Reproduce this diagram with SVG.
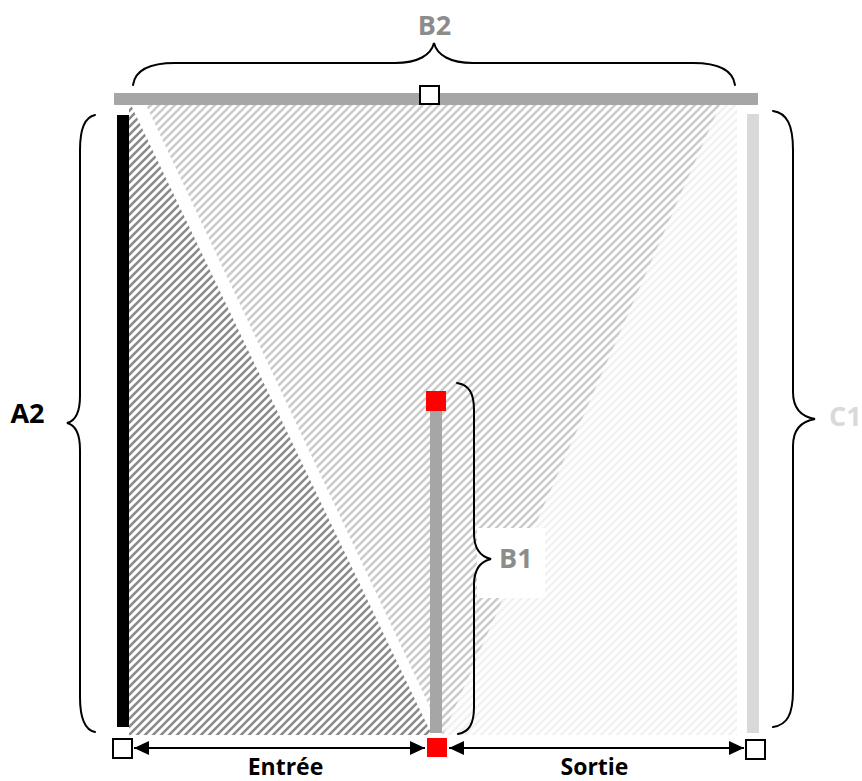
<svg xmlns="http://www.w3.org/2000/svg" width="862" height="781" viewBox="0 0 862 781">
<style>
.brace{fill:none;stroke:#000;stroke-width:2;stroke-linecap:round}
.lbl{font-family:"Open Sans","Liberation Sans",sans-serif;font-weight:bold}
.big{font-size:27px}
.small{font-size:23px}
.sq{fill:#fff;stroke:#000;stroke-width:2}
.red{fill:#ff0000}
.conn{stroke:#000;stroke-width:2;fill:none}
</style>
<defs>
<pattern id="hDark" patternUnits="userSpaceOnUse" width="8" height="8">
<path d="M-2,2 L2,-2 M0,8 L8,0 M6,10 L10,6" stroke="#8a8a8a" stroke-width="2.6"/>
</pattern>
<pattern id="hMid" patternUnits="userSpaceOnUse" width="8" height="8">
<path d="M-2,2 L2,-2 M0,8 L8,0 M6,10 L10,6" stroke="#cbcbcb" stroke-width="2.6"/>
</pattern>
<pattern id="hLight" patternUnits="userSpaceOnUse" width="8" height="8">
<path d="M-2,2 L2,-2 M0,8 L8,0 M6,10 L10,6" stroke="#f1f1f1" stroke-width="2.6"/>
</pattern>
<marker id="arr" markerUnits="userSpaceOnUse" markerWidth="16" markerHeight="14" refX="15" refY="7" orient="auto-start-reverse">
<path d="M0,0 L15,7 L0,14 Z" fill="#000"/>
</marker>
</defs>
<rect width="862" height="781" fill="#fff"/>

<g id="zones">
<polygon id="zone-light" points="720,105 737,105 737,735 443,735" fill="url(#hLight)"/>
<polygon id="zone-mid" points="146,105 720,105 443,735" fill="url(#hMid)"/>
<polygon id="zone-dark" points="129,105 131,105 432,735 129,735" fill="url(#hDark)"/>
<rect id="b1-box" x="477" y="528" width="68" height="70" fill="#fff"/>
</g>

<g id="B2-bar"><rect x="114" y="93" width="644" height="12" fill="#a6a6a6"/></g>
<g id="A2-bar"><rect x="117" y="115" width="12" height="612" fill="#000"/></g>
<g id="C1-bar"><rect x="747" y="114" width="12" height="619" fill="#d9d9d9"/></g>
<g id="B1-bar"><rect x="430" y="405" width="12" height="328" fill="#a6a6a6"/></g>

<g id="node-top"><rect class="sq" x="420" y="86" width="19" height="18"/></g>
<g id="node-b1-top"><rect class="red" x="426" y="391" width="20" height="20"/></g>
<g id="node-bottom-left"><rect class="sq" x="113" y="739" width="19" height="19"/></g>
<g id="node-bottom-mid"><rect class="red" x="427" y="738" width="20" height="19"/></g>
<g id="node-bottom-right"><rect class="sq" x="746" y="740" width="19" height="19"/></g>

<g id="braces">
<path class="brace" d="M133,85 C135,71 148,63 175,63 L395,63 C418,63 431,55 434,43 C437,55 450,63 473,63 L693,63 C720,63 733,71 735,85"/>
<path class="brace" d="M95,115 C85,117 80,128 80,150 L80,396 C80,412 75,421 67,423 C75,425 80,434 80,450 L80,697 C80,719 85,730 95,732"/>
<path class="brace" d="M773,111 C787,113 793,125 793,150 L793,392 C793,410 803,417 815,419 C803,421 793,428 793,446 L793,690 C793,715 787,725 773,727"/>
<path class="brace" d="M457,383 C469,385 474,393 474,410 L474,533 C474,550 482,557 491,559 C482,561 474,568 474,585 L474,707 C474,724 469,732 458,734"/>
</g>

<g id="connectors">
<line class="conn" x1="134" y1="748" x2="425" y2="748" marker-start="url(#arr)" marker-end="url(#arr)"/>
<line class="conn" x1="449" y1="748" x2="744" y2="748" marker-start="url(#arr)" marker-end="url(#arr)"/>
</g>

<g id="labels">
<text class="lbl big" x="434.5" y="35" text-anchor="middle" fill="#8c8c8c">B2</text>
<text class="lbl big" x="27.5" y="423" text-anchor="middle" fill="#000">A2</text>
<text class="lbl big" x="499" y="568" fill="#8c8c8c">B1</text>
<text class="lbl big" x="829" y="426" fill="#d9d9d9">C1</text>
<text class="lbl small" x="285.5" y="775" text-anchor="middle" fill="#000">Entrée</text>
<text class="lbl small" x="594.5" y="775" text-anchor="middle" fill="#000">Sortie</text>
</g>
</svg>
